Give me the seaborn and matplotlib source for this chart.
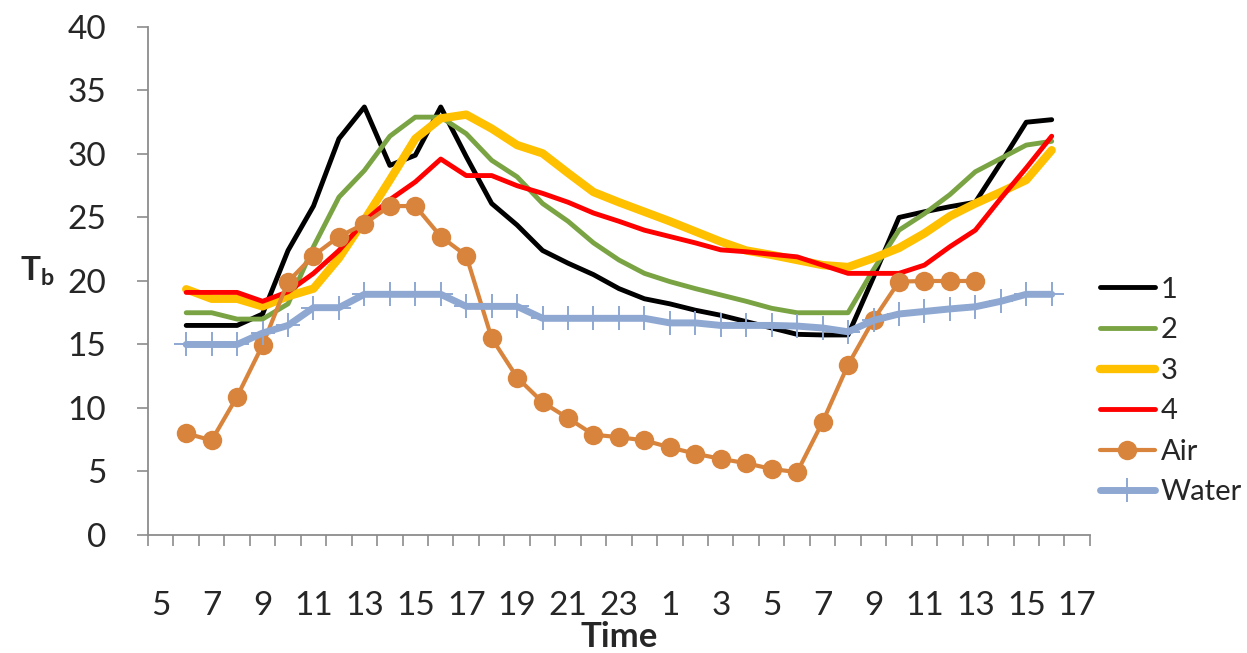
import numpy as np
import pandas as pd
import seaborn as sns
from matplotlib import pyplot as plt

# hours since midnight of day 1 (6:00 day 1 .. 16:00 day 2)
time_h = [6, 7, 8, 9, 10, 11, 12, 13, 14, 15, 16, 17, 18, 19, 20, 21, 22, 23,
          24, 25, 26, 27, 28, 29, 30, 31, 32, 33, 34, 35, 36, 37, 38, 39, 40]

tb_1 = [16.5, 16.5, 16.5, 17.4, 22.4, 25.9, 31.2, 33.7, 29.1, 29.9, 33.7, 29.8,
        26.1, 24.4, 22.4, 21.4, 20.5, 19.4, 18.6, 18.2, 17.7, 17.3, 16.8, 16.3,
        15.8, 15.75, 15.75, 20.3, 25.0, 25.45, 25.85, 26.2, 29.3, 32.5, 32.7]
tb_2 = [17.5, 17.5, 17.0, 17.0, 18.2, 22.7, 26.6, 28.7, 31.4, 32.9, 32.9, 31.6,
        29.5, 28.2, 26.1, 24.7, 23.0, 21.65, 20.6, 19.95, 19.4, 18.9, 18.4, 17.85,
        17.5, 17.5, 17.5, 20.9, 24.0, 25.3, 26.8, 28.6, 29.65, 30.7, 31.0]
tb_3 = [19.35, 18.6, 18.6, 18.0, 18.8, 19.4, 21.8, 24.8, 27.95, 31.2, 32.8, 33.1,
        32.0, 30.7, 30.05, 28.5, 27.0, 26.2, 25.45, 24.7, 23.9, 23.1, 22.4, 22.05,
        21.65, 21.25, 21.1, 21.8, 22.6, 23.75, 25.1, 26.1, 27.0, 27.95, 30.3]
tb_4 = [19.1, 19.1, 19.1, 18.4, 19.15, 20.6, 22.4, 24.7, 26.4, 27.8, 29.6, 28.3,
        28.3, 27.5, 26.9, 26.2, 25.35, 24.7, 24.0, 23.5, 23.0, 22.45, 22.3, 22.1,
        21.9, 21.25, 20.6, 20.6, 20.6, 21.25, 22.7, 24.0, 26.5, 28.9, 31.4]
air = [8.0, 7.45, 10.9, 14.95, 19.95, 22.0, 23.5, 24.5, 25.9, 25.9, 23.5, 22.0,
       15.5, 12.4, 10.45, 9.2, 7.9, 7.7, 7.45, 6.9, 6.4, 6.0, 5.65, 5.2,
       4.95, 8.9, 13.4, 16.95, 19.95, 20.0, 20.0, 20.0, np.nan, np.nan, np.nan]
water = [15.0, 15.0, 15.0, 15.9, 16.5, 17.9, 17.9, 18.95, 18.95, 18.95, 18.95, 18.0,
         18.0, 18.0, 17.06, 17.06, 17.06, 17.06, 17.06, 16.7, 16.7, 16.5, 16.5, 16.5,
         16.45, 16.3, 16.0, 16.9, 17.4, 17.6, 17.8, 17.97, 18.4, 18.95, 18.95]

df = pd.DataFrame({"t": time_h, "1": tb_1, "2": tb_2, "3": tb_3, "4": tb_4,
                   "Air": air, "Water": water})

sns.set_theme(style="white")
plt.rcParams['font.family'] = ['Lato', 'DejaVu Sans']
plt.rcParams['mathtext.fontset'] = 'custom'
plt.rcParams['mathtext.bf'] = 'Lato:bold'

fig = plt.figure(figsize=(12.47, 6.53), dpi=100)
ax = fig.add_axes([0.1187, 0.1807, 0.7553, 0.778])

sns.lineplot(data=df, x="t", y="1", ax=ax, color="black", lw=3.5, label="1")
sns.lineplot(data=df, x="t", y="2", ax=ax, color="#7AA444", lw=3.5, label="2")
sns.lineplot(data=df, x="t", y="3", ax=ax, color="#FFC000", lw=6, label="3")
sns.lineplot(data=df, x="t", y="4", ax=ax, color="#FF0000", lw=3.5, label="4")
sns.lineplot(data=df, x="t", y="Air", ax=ax, color="#D9843C", lw=3, marker="o",
             markersize=14, markeredgewidth=0, label="Air")
sns.lineplot(data=df, x="t", y="Water", ax=ax, color="#8EA8D2", lw=5, marker="+",
             markersize=17, markeredgewidth=1.4, markeredgecolor="#8EA8D2", label="Water")

ax.set_ylim(0, 40)
ax.set_xlim(4.5, 41.5)
ax.set_yticks(range(0, 41, 5))
ax.set_xticks(range(5, 42, 2))
ax.set_xticklabels([str(h % 24) for h in range(5, 42, 2)])
ax.set_xticks(np.arange(4.5, 42, 1), minor=True)

sns.despine(ax=ax)
for side in ["left", "bottom"]:
    ax.spines[side].set_color("#8C8C8C")
    ax.spines[side].set_linewidth(1.3)

ax.tick_params(axis="y", which="major", length=8, width=1.2, color="#8C8C8C",
               labelsize=24, pad=22, left=True)
ax.tick_params(axis="x", which="major", length=0, labelsize=24, pad=40)
ax.tick_params(axis="x", which="minor", length=8, width=1.2, color="#8C8C8C",
               bottom=True, direction="out")

ax.set_xlabel("Time", fontsize=25, fontweight="bold", labelpad=0)
ax.set_ylabel("")
fig.text(0.03, 0.585, r"$\mathbf{T_b}$", fontsize=24, ha="center", va="center")

ax.legend(loc="upper left", bbox_to_anchor=(1085 / 1247, 1 - 262 / 653),
          bbox_transform=fig.transFigure, frameon=False, fontsize=21,
          handlelength=1.9, handletextpad=0.2, labelspacing=0.5, borderpad=0)

fig.savefig("out.png", dpi=100)
